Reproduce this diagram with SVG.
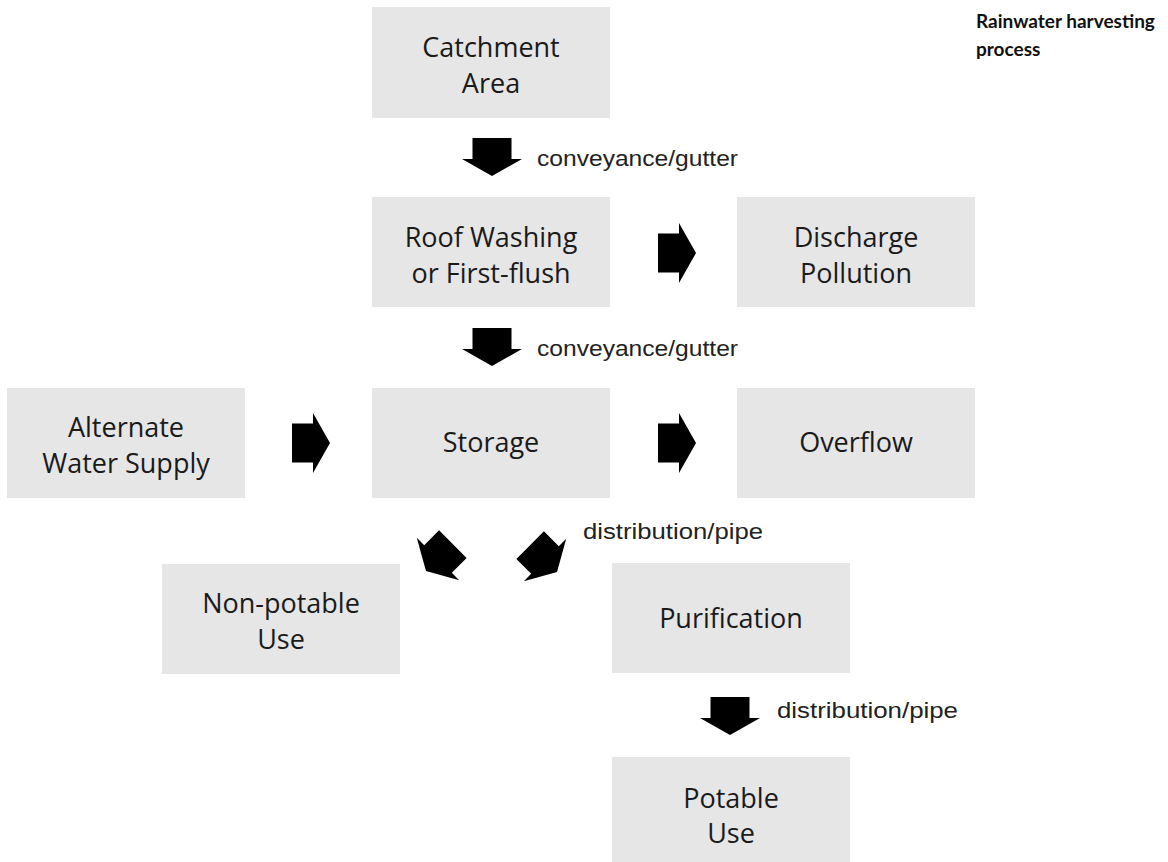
<svg xmlns="http://www.w3.org/2000/svg" width="1168" height="862" viewBox="0 0 1168 862">
<style>
.box{fill:#e6e6e6;}
.nt{font-family:"Open Sans","Noto Sans",sans-serif;font-size:27px;fill:#1a1a1a;text-anchor:middle;}
.lbl{font-family:"Liberation Sans",Arial,sans-serif;font-size:22px;fill:#222;}
.title{font-family:Lato,"Liberation Sans",sans-serif;font-weight:bold;font-size:19px;fill:#111;}
.arr{fill:#000;}
</style>
<defs>
<path id="ar" d="M-21,-19.5 H0 V-30 L17,0 L0,30 V19.5 H-21 Z"/>
</defs>
<rect width="1168" height="862" fill="#fff"/>
<g id="title">
<text class="title" x="976" y="28">Rainwater harvesting</text>
<text class="title" x="976" y="56">process</text>
</g>
<g id="catchment"><rect class="box" x="372" y="7" width="238" height="111"/><text class="nt" x="491" y="57">Catchment</text><text class="nt" x="491" y="93">Area</text></g>
<g id="roof"><rect class="box" x="372" y="197" width="238" height="110"/><text class="nt" x="491" y="247">Roof Washing</text><text class="nt" x="491" y="283">or First-flush</text></g>
<g id="discharge"><rect class="box" x="737" y="197" width="238" height="110"/><text class="nt" x="856" y="247">Discharge</text><text class="nt" x="856" y="283">Pollution</text></g>
<g id="alternate"><rect class="box" x="7" y="388" width="238" height="110"/><text class="nt" x="126" y="437">Alternate</text><text class="nt" x="126" y="473">Water Supply</text></g>
<g id="storage"><rect class="box" x="372" y="388" width="238" height="110"/><text class="nt" x="491" y="452">Storage</text></g>
<g id="overflow"><rect class="box" x="737" y="388" width="238" height="110"/><text class="nt" x="856" y="452">Overflow</text></g>
<g id="nonpotable"><rect class="box" x="162" y="564" width="238" height="110"/><text class="nt" x="281" y="613">Non-potable</text><text class="nt" x="281" y="649">Use</text></g>
<g id="purification"><rect class="box" x="612" y="563" width="238" height="110"/><text class="nt" x="731" y="628">Purification</text></g>
<g id="potable"><rect class="box" x="612" y="757" width="238" height="105"/><text class="nt" x="731" y="808">Potable</text><text class="nt" x="731" y="843">Use</text></g>
<g id="connectors">
<use href="#ar" class="arr" transform="translate(492,159) rotate(90)"/>
<text class="lbl" x="537" y="166" textLength="201" lengthAdjust="spacingAndGlyphs">conveyance/gutter</text>
<use href="#ar" class="arr" transform="translate(679,253)"/>
<use href="#ar" class="arr" transform="translate(492,349) rotate(90)"/>
<text class="lbl" x="537" y="356" textLength="201" lengthAdjust="spacingAndGlyphs">conveyance/gutter</text>
<use href="#ar" class="arr" transform="translate(313,443)"/>
<use href="#ar" class="arr" transform="translate(679,443)"/>
<use href="#ar" class="arr" transform="translate(438,559) rotate(135)"/>
<use href="#ar" class="arr" transform="translate(545,560) rotate(45)"/>
<text class="lbl" x="583" y="539" textLength="180" lengthAdjust="spacingAndGlyphs">distribution/pipe</text>
<use href="#ar" class="arr" transform="translate(730,718) rotate(90)"/>
<text class="lbl" x="777" y="718" textLength="181" lengthAdjust="spacingAndGlyphs">distribution/pipe</text>
</g>
</svg>
